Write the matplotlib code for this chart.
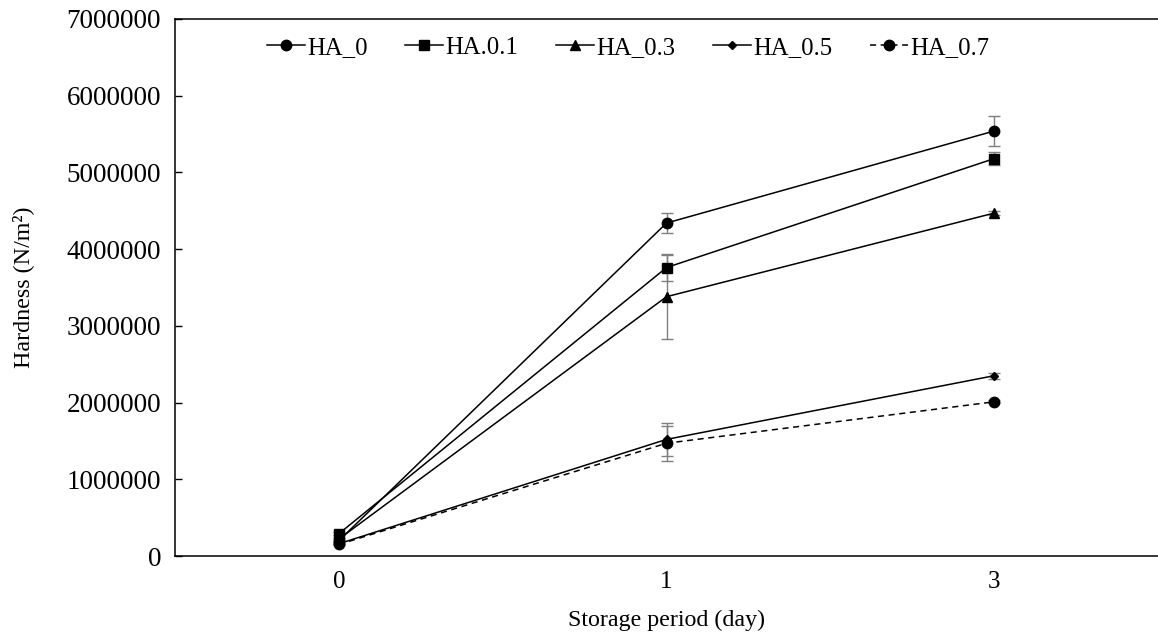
import matplotlib
matplotlib.use("Agg")
import matplotlib.pyplot as plt

plt.rcParams['font.family'] = ['Liberation Serif', 'DejaVu Serif']

categories = ["0", "1", "3"]
series_names = ["HA_0", "HA.0.1", "HA_0.3", "HA_0.5", "HA_0.7"]
ha_0 = [200000, 4340000, 5540000]
ha_01 = [290000, 3760000, 5180000]
ha_03 = [220000, 3380000, 4470000]
ha_05 = [160000, 1520000, 2350000]
ha_07 = [150000, 1470000, 2010000]
err_0 = [20000, 130000, 200000]
err_01 = [20000, 180000, 80000]
err_03 = [20000, 550000, 30000]
err_05 = [10000, 210000, 40000]
err_07 = [10000, 230000, 20000]
yticks = [0, 1000000, 2000000, 3000000, 4000000, 5000000, 6000000, 7000000]

fig = plt.figure(figsize=(11.58, 6.35), dpi=100)
ax = fig.add_axes([175/1158, 79/635, 983/1158, 537/635])

x = list(range(len(categories)))
styles = [
    (ha_0, err_0, 'o', 7.5, '-'),
    (ha_01, err_01, 's', 6.5, '-'),
    (ha_03, err_03, '^', 7.5, '-'),
    (ha_05, err_05, 'D', 4.5, '-'),
    (ha_07, err_07, 'o', 7.5, (0, (4, 3))),
]
for name, (vals, errs, mk, ms, ls) in zip(series_names, styles):
    ax.errorbar(x, vals, yerr=errs, fmt='none', ecolor='#7f7f7f', elinewidth=1.0,
                capsize=4, capthick=1.0, zorder=2)
    ax.plot(x, vals, color='black', linestyle=ls, linewidth=1.1, marker=mk,
            markersize=ms, markerfacecolor='black', markeredgecolor='black',
            label=name, zorder=3)

ax.set_xlim(-0.5, 2.5)
ax.set_ylim(0, 7000000)
ax.set_xticks(x)
ax.set_xticklabels(categories)
ax.set_yticks(yticks)
ax.set_yticklabels([str(v) for v in yticks])
ax.tick_params(axis='x', length=0, labelsize=18, pad=11)
ax.tick_params(axis='y', direction='in', length=5, width=1.0, labelsize=19.5, pad=10)
ax.spines['right'].set_visible(False)
for s in ['left', 'top', 'bottom']:
    ax.spines[s].set_linewidth(1.1)
    ax.spines[s].set_color('black')

ax.set_xlabel("Storage period (day)", fontsize=17.3, labelpad=12)
ax.set_ylabel("Hardness (N/m²)", fontsize=17.3)
ax.yaxis.set_label_coords(-141/983, 0.5)

leg = ax.legend(loc='upper left', bbox_to_anchor=(0.078, 0.995), ncol=5, frameon=False,
                fontsize=17.8, handlelength=1.55, handletextpad=0.1, columnspacing=1.5,
                borderaxespad=0.2)

fig.savefig("out.png", dpi=100)
